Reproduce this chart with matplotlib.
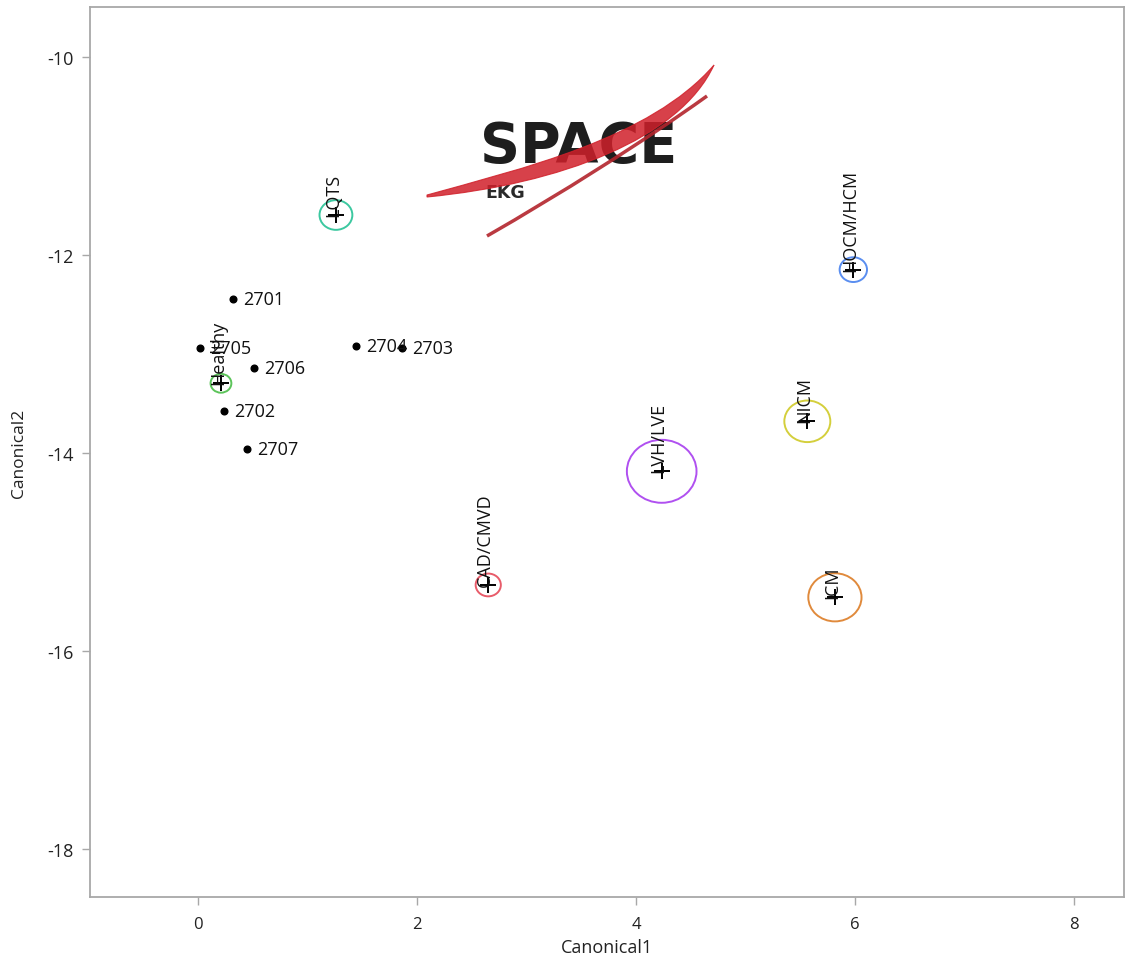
import matplotlib
matplotlib.use("Agg")
import matplotlib.pyplot as plt
from matplotlib.patches import Circle, PathPatch
from matplotlib.path import Path

# ---- data ----
point_ids = ["2701", "2705", "2706", "2702", "2707", "2704", "2703"]
point_x = [0.322, 0.018, 0.511, 0.237, 0.445, 1.440, 1.866]
point_y = [-12.444, -12.943, -13.145, -13.572, -13.960, -12.916, -12.943]

groups = ["LQTS", "HOCM/HCM", "Healthy", "NICM", "LVH/LVE", "CAD/CMVD", "ICM"]
group_x = [1.260, 5.985, 0.210, 5.565, 4.235, 2.651, 5.817]
group_y = [-11.596, -12.148, -13.296, -13.680, -14.185, -15.333, -15.458]
group_r = [0.150, 0.125, 0.095, 0.210, 0.318, 0.115, 0.243]
group_colors = ["#3cc8a0", "#5a8ef0", "#5cc45a", "#d4cf3c", "#b050f0", "#e85c6a", "#e08a3c"]

x_ticks = [0, 2, 4, 6, 8]
y_ticks = [-10, -12, -14, -16, -18]
x_label = "Canonical1"
y_label = "Canonical2"

# ---- figure ----
W, H = 1126, 962
fig = plt.figure(figsize=(W / 100, H / 100), dpi=100)
ax = fig.add_axes([90 / W, 1 - 898 / H, (1124 - 90) / W, (898 - 8) / H])
ax.set_xlim(-0.986, 8.457)
ax.set_ylim(-18.485, -9.495)

spine_c = "#a8a8a8"
for s in ax.spines.values():
    s.set_color(spine_c)
    s.set_linewidth(1.3)
ax.tick_params(axis="both", direction="out", length=6, width=1, color=spine_c)
ax.set_xticks(x_ticks)
ax.set_yticks(y_ticks)
ax.set_xticklabels([str(t) for t in x_ticks], fontsize=12, family="Open Sans", color="#222222")
ax.set_yticklabels([str(t) for t in y_ticks], fontsize=13, family="Open Sans", color="#222222")
ax.tick_params(axis="x", pad=8)
ax.tick_params(axis="y", pad=6)
ax.set_xlabel(x_label, fontsize=13, family="Open Sans", color="#222222", labelpad=4)
ax.set_ylabel(y_label, fontsize=12.5, family="Open Sans", color="#222222", labelpad=14)

# group circles, centroids and labels
for g, gx, gy, gr, gc in zip(groups, group_x, group_y, group_r, group_colors):
    ax.add_patch(Circle((gx, gy), gr, fill=False, edgecolor=gc, linewidth=1.4, zorder=2))
    ax.plot([gx], [gy], marker="+", markersize=12, mew=1.4, color="black", zorder=3)
    ax.annotate(g, (gx, gy), xytext=(2, -1), textcoords="offset pixels",
                rotation=90, rotation_mode="anchor", ha="left", va="baseline",
                fontsize=13, family="Open Sans", color="#111111", zorder=4)

# individual points
ax.plot(point_x, point_y, "o", color="black", markersize=4.8, zorder=5, linestyle="none")
for pid, px, py in zip(point_ids, point_x, point_y):
    ax.annotate(pid, (px, py), xytext=(10, 0), textcoords="offset pixels",
                ha="left", va="center", fontsize=13, family="Open Sans",
                color="#111111", zorder=5)

# ---- logo (decorative) ----
L0x, L0y, LW, LH = 420, 60, 300, 185
lax = fig.add_axes([L0x / W, 1 - (L0y + LH) / H, LW / W, LH / H])
lax.set_xlim(L0x, L0x + LW)
lax.set_ylim(L0y + LH, L0y)
lax.axis("off")
lax.patch.set_alpha(0)

lax.text(579, 147, "SPACE", fontsize=40, fontweight="bold", family="DejaVu Sans",
         color="#1e1e1e", ha="center", va="center", zorder=1)
lax.text(505, 193, "EKG", fontsize=12.5, fontweight="bold", family="DejaVu Sans",
         color="#2a2a2a", ha="center", va="center", zorder=1)

verts = [(427, 196), (520, 170), (650, 140), (714, 66),
         (680, 140), (560, 185), (427, 198), (427, 196)]
codes = [Path.MOVETO, Path.CURVE4, Path.CURVE4, Path.CURVE4,
         Path.CURVE4, Path.CURVE4, Path.CURVE4, Path.CLOSEPOLY]
lax.add_patch(PathPatch(Path(verts, codes), facecolor="#d0202a", edgecolor="#d0202a",
                        linewidth=0.8, alpha=0.85, zorder=2))
verts2 = [(487, 237), (560, 195), (640, 145), (707, 97)]
codes2 = [Path.MOVETO, Path.CURVE4, Path.CURVE4, Path.CURVE4]
lax.add_patch(PathPatch(Path(verts2, codes2), facecolor="none", edgecolor="#b3242c",
                        linewidth=2.5, alpha=0.9, zorder=2))

fig.savefig("out.png", dpi=100)
